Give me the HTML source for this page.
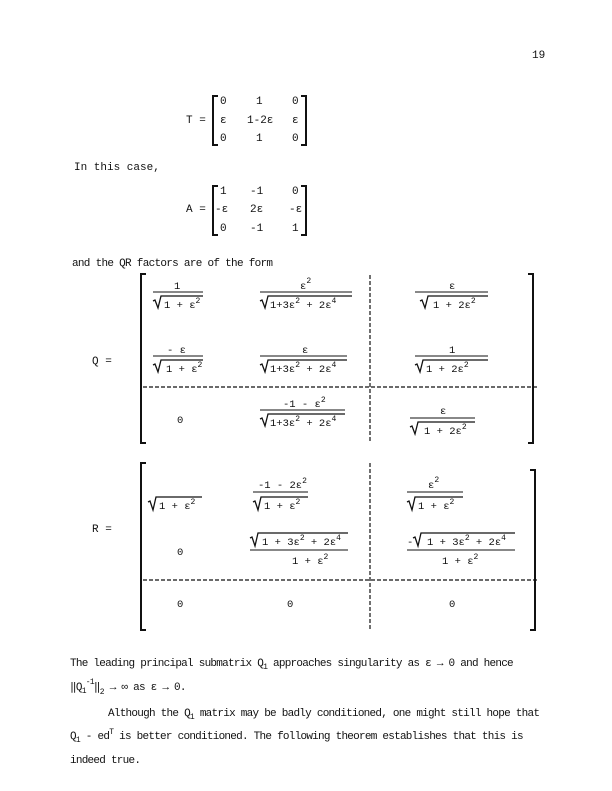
<!DOCTYPE html>
<html><head><meta charset="utf-8"><style>
html,body{margin:0;padding:0;background:#fff;}
svg{display:block;}
text{font-family:"Liberation Mono",monospace;font-size:11px;fill:#111;}
.t{letter-spacing:-0.75px;}
.m{font-size:10.5px;}
.s{font-size:8px;}
.r{fill:none;stroke:#111;stroke-width:1.3;}
.b{fill:none;stroke:#111;stroke-width:2;}
.d{stroke:#111;stroke-width:1.2;stroke-dasharray:4,2;}
.l{stroke:#111;stroke-width:1.1;}
</style></head><body>
<svg width="612" height="791" viewBox="0 0 612 791" xmlns="http://www.w3.org/2000/svg">
<text x="532" y="58">19</text>

<!-- T -->
<text x="186" y="123">T =</text>
<path class="b" d="M218,96 L213,96 L213,145 L218,145"/>
<path class="b" d="M301,96 L306,96 L306,145 L301,145"/>
<text x="220" y="104">0</text><text x="256" y="104">1</text><text x="292" y="104">0</text>
<text x="220" y="123">ε</text><text x="247" y="123">1-2ε</text><text x="292" y="123">ε</text>
<text x="220" y="141">0</text><text x="256" y="141">1</text><text x="292" y="141">0</text>

<text x="74" y="170">In this case,</text>

<!-- A -->
<text x="186" y="212">A =</text>
<path class="b" d="M218,186 L213,186 L213,235 L218,235"/>
<path class="b" d="M301,186 L306,186 L306,235 L301,235"/>
<text x="220" y="194">1</text><text x="250" y="194">-1</text><text x="292" y="194">0</text>
<text x="215" y="212">-ε</text><text x="250" y="212">2ε</text><text x="289" y="212">-ε</text>
<text x="220" y="231">0</text><text x="250" y="231">-1</text><text x="292" y="231">1</text>

<text x="72" y="266" textLength="201">and the QR factors are of the form</text>

<!-- Q -->
<text x="92" y="364">Q =</text>
<path class="b" d="M146,274 L141,274 L141,443 L146,443"/>
<path class="b" d="M528,274 L533,274 L533,443 L528,443"/>
<line class="d" x1="370" y1="275" x2="370" y2="443"/>
<line class="d" x1="143" y1="387" x2="537" y2="387"/>

<text class="m" x="174" y="289">1</text>
<line class="l" x1="153" y1="292" x2="203" y2="292"/>
<path class="r" d="M153,301 L155,300 L158,308 L161,296 L203,296"/>
<text class="m" x="164" y="308">1 + ε<tspan class="s" dy="-5">2</tspan></text>

<text class="m" x="300" y="289">ε<tspan class="s" dy="-6">2</tspan></text>
<line class="l" x1="260" y1="292" x2="352" y2="292"/>
<path class="r" d="M260,301 L262,300 L265,308 L268,296 L352,296"/>
<text class="m" x="270" y="308">1+3ε<tspan class="s" dy="-5">2</tspan><tspan dy="5"> + 2ε</tspan><tspan class="s" dy="-5">4</tspan></text>

<text class="m" x="449" y="289">ε</text>
<line class="l" x1="415" y1="292" x2="488" y2="292"/>
<path class="r" d="M420,301 L422,300 L425,308 L428,296 L488,296"/>
<text class="m" x="433" y="308">1 + 2ε<tspan class="s" dy="-5">2</tspan></text>

<text class="m" x="167" y="353">- ε</text>
<line class="l" x1="153" y1="356" x2="203" y2="356"/>
<path class="r" d="M153,365 L155,364 L158,372 L161,360 L203,360"/>
<text class="m" x="166" y="372">1 + ε<tspan class="s" dy="-5">2</tspan></text>

<text class="m" x="302" y="353">ε</text>
<line class="l" x1="260" y1="356" x2="347" y2="356"/>
<path class="r" d="M260,365 L262,364 L265,372 L268,360 L347,360"/>
<text class="m" x="270" y="372">1+3ε<tspan class="s" dy="-5">2</tspan><tspan dy="5"> + 2ε</tspan><tspan class="s" dy="-5">4</tspan></text>

<text class="m" x="449" y="353">1</text>
<line class="l" x1="415" y1="356" x2="488" y2="356"/>
<path class="r" d="M415,365 L417,364 L420,372 L423,360 L488,360"/>
<text class="m" x="426" y="372">1 + 2ε<tspan class="s" dy="-5">2</tspan></text>

<text class="m" x="177" y="423">0</text>
<text class="m" x="283" y="407">-1 - ε<tspan class="s" dy="-5">2</tspan></text>
<line class="l" x1="260" y1="410" x2="345" y2="410"/>
<path class="r" d="M260,419 L262,418 L265,426 L268,414 L345,414"/>
<text class="m" x="270" y="426">1+3ε<tspan class="s" dy="-5">2</tspan><tspan dy="5"> + 2ε</tspan><tspan class="s" dy="-5">4</tspan></text>

<text class="m" x="440" y="414">ε</text>
<line class="l" x1="410" y1="418" x2="475" y2="418"/>
<path class="r" d="M410,427 L412,426 L415,434 L418,422 L475,422"/>
<text class="m" x="424" y="434">1 + 2ε<tspan class="s" dy="-5">2</tspan></text>

<!-- R -->
<text x="92" y="532">R =</text>
<path class="b" d="M146,463 L141,463 L141,630 L146,630"/>
<path class="b" d="M530,470 L535,470 L535,630 L530,630"/>
<line class="d" x1="370" y1="463" x2="370" y2="630"/>
<line class="d" x1="143" y1="580" x2="537" y2="580"/>

<path class="r" d="M148,502 L150,501 L153,510 L156,497 L202,497"/>
<text class="m" x="159" y="509">1 + ε<tspan class="s" dy="-5">2</tspan></text>

<text class="m" x="258" y="488">-1 - 2ε<tspan class="s" dy="-5">2</tspan></text>
<line class="l" x1="253" y1="492" x2="308" y2="492"/>
<path class="r" d="M253,502 L255,501 L258,510 L261,497 L308,497"/>
<text class="m" x="264" y="509">1 + ε<tspan class="s" dy="-5">2</tspan></text>

<text class="m" x="428" y="488">ε<tspan class="s" dy="-6">2</tspan></text>
<line class="l" x1="407" y1="492" x2="463" y2="492"/>
<path class="r" d="M407,502 L409,501 L412,510 L415,497 L463,497"/>
<text class="m" x="418" y="509">1 + ε<tspan class="s" dy="-5">2</tspan></text>

<text class="m" x="177" y="555">0</text>
<path class="r" d="M250,538 L252,537 L255,546 L258,533 L348,533"/>
<text class="m" x="262" y="545">1 + 3ε<tspan class="s" dy="-5">2</tspan><tspan dy="5"> + 2ε</tspan><tspan class="s" dy="-5">4</tspan></text>
<line class="l" x1="250" y1="550" x2="348" y2="550"/>
<text class="m" x="292" y="564">1 + ε<tspan class="s" dy="-5">2</tspan></text>

<text class="m" x="407" y="545">-</text>
<path class="r" d="M413,538 L415,537 L418,546 L421,533 L515,533"/>
<text class="m" x="427" y="545">1 + 3ε<tspan class="s" dy="-5">2</tspan><tspan dy="5"> + 2ε</tspan><tspan class="s" dy="-5">4</tspan></text>
<line class="l" x1="407" y1="550" x2="515" y2="550"/>
<text class="m" x="442" y="564">1 + ε<tspan class="s" dy="-5">2</tspan></text>

<text class="m" x="177" y="607">0</text>
<text class="m" x="287" y="607">0</text>
<text class="m" x="449" y="607">0</text>

<!-- text -->
<text class="t" x="70" y="666">The leading principal submatrix Q<tspan class="s" dy="3">1</tspan><tspan dy="-3"> approaches singularity as ε → 0 and hence</tspan></text>
<text class="t" x="70" y="690">‖Q<tspan class="s" dy="3">1</tspan><tspan class="s" dy="-9">-1</tspan><tspan dy="6">‖</tspan><tspan class="s" dy="4">2</tspan><tspan dy="-4"> → ∞  as ε → 0.</tspan></text>
<text class="t" x="108" y="716">Although the Q<tspan class="s" dy="3">1</tspan><tspan dy="-3"> matrix may be badly conditioned, one might still hope that</tspan></text>
<text class="t" x="70" y="739">Q<tspan class="s" dy="3">1</tspan><tspan dy="-3"> - ed</tspan><tspan class="s" dy="-5">T</tspan><tspan dy="5"> is better conditioned.  The following theorem establishes that this is</tspan></text>
<text class="t" x="70" y="763">indeed true.</text>
</svg>
</body></html>
